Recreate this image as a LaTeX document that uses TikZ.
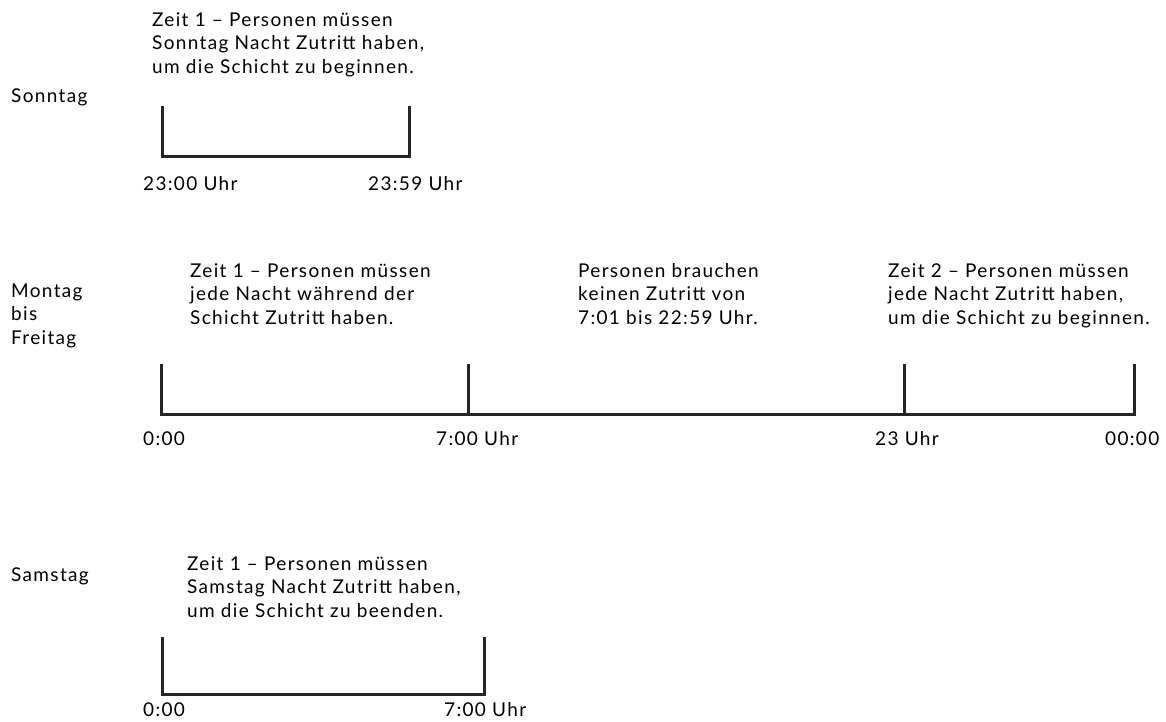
\documentclass[tikz,border=0pt]{standalone}
\usepackage{fontspec}
\setmainfont{Lato}[LetterSpace=7]
\newcommand{\tlfont}{\fontsize{19}{23.5}\selectfont}
\begin{document}
\begin{tikzpicture}[x=1pt,y=-1pt,
  txt/.style={anchor=base west, inner sep=0pt, font=\tlfont, align=left},
  bar/.style={line width=3pt, line join=miter, line cap=rect, black!85}]
\useasboundingbox (0,0) rectangle (1166,721);
% ---------- Sonntag ----------
\node[txt] (son) at (11,102) {Sonntag};
\node[txt] (sontext) at (152,73) {Zeit 1 -- Personen müssen\\Sonntag Nacht Zutritt haben,\\um die Schicht zu beginnen.};
\coordinate (sa) at (162,107);
\coordinate (sab) at (162,156);
\coordinate (sb) at (409,107);
\coordinate (sbb) at (409,156);
\draw[bar] (sa) -- (sab) -- (sbb) -- (sb);
\node[txt] (sl1) at (143,190) {23:00 Uhr};
\node[txt] (sl2) at (368,190) {23:59 Uhr};
% ---------- Montag bis Freitag ----------
\node[txt] (mf) at (11,344) {Montag\\bis\\Freitag};
\node[txt] (mft1) at (190,324) {Zeit 1 -- Personen müssen\\jede Nacht während der\\Schicht Zutritt haben.};
\node[txt] (mft2) at (578,324) {Personen brauchen\\keinen Zutritt von\\7:01 bis 22:59 Uhr.};
\node[txt] (mft3) at (888,324) {Zeit 2 -- Personen müssen\\jede Nacht Zutritt haben,\\um die Schicht zu beginnen.};
\coordinate (ma) at (161,365);
\coordinate (mab) at (161,414);
\coordinate (mb) at (468,365);
\coordinate (mbb) at (468,414);
\coordinate (mc) at (904,365);
\coordinate (mcb) at (904,414);
\coordinate (md) at (1134,365);
\coordinate (mdb) at (1134,414);
\draw[bar] (ma) -- (mab) -- (mdb) -- (md);
\draw[bar] (mb) -- (mbb);
\draw[bar] (mc) -- (mcb);
\node[txt] (ml1) at (143,445) {0:00};
\node[txt] (ml2) at (436,445) {7:00 Uhr};
\node[txt] (ml3) at (875,445) {23 Uhr};
\node[txt] (ml4) at (1105,445) {00:00};
% ---------- Samstag ----------
\node[txt] (sam) at (11,581) {Samstag};
\node[txt] (samtext) at (187,617) {Zeit 1 -- Personen müssen\\Samstag Nacht Zutritt haben,\\um die Schicht zu beenden.};
\coordinate (ta) at (162,638);
\coordinate (tab) at (162,694);
\coordinate (tb) at (484,638);
\coordinate (tbb) at (484,694);
\draw[bar] (ta) -- (tab) -- (tbb) -- (tb);
\node[txt] (tl1) at (143,716) {0:00};
\node[txt] (tl2) at (444,716) {7:00 Uhr};
\end{tikzpicture}
\end{document}
